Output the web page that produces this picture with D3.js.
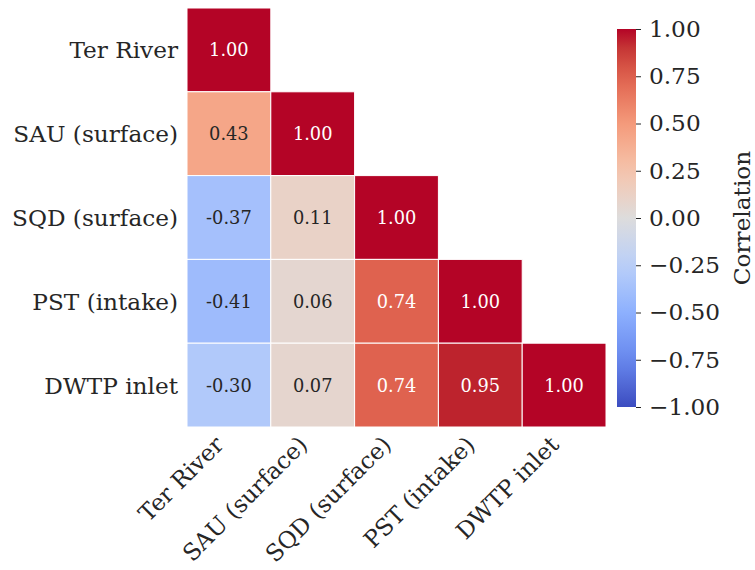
<!DOCTYPE html>
<html>
<head>
<meta charset="utf-8">
<script src="https://cdn.jsdelivr.net/npm/d3@7"></script>
<style>
  html, body { margin: 0; padding: 0; background: #fff; }
  text { font-family: "DejaVu Serif", serif; fill: #262626; }
</style>
</head>
<body>
<svg id="chart" width="755" height="570"></svg>
<script>
// Sampling sites (rows and columns of the correlation matrix)
const sites = ["Ter River", "SAU (surface)", "SQD (surface)", "PST (intake)", "DWTP inlet"];

// Lower triangle of the correlation matrix, one array per row
const rowTer  = [1.00];
const rowSAU  = [0.43, 1.00];
const rowSQD  = [-0.37, 0.11, 1.00];
const rowPST  = [-0.41, 0.06, 0.74, 1.00];
const rowDWTP = [-0.30, 0.07, 0.74, 0.95, 1.00];
const matrixRows = [rowTer, rowSAU, rowSQD, rowPST, rowDWTP];

// Colour bar ticks
const barTicks = [1.00, 0.75, 0.50, 0.25, 0.00, -0.25, -0.50, -0.75, -1.00];

// Diverging cool-warm palette
const coolwarmStops = ["#3b4cc0", "#6788ee", "#8db0fe", "#b9d0f9", "#dddcdc", "#f5c4ac", "#f49a7b", "#de604d", "#b40426"];
const coolwarm = d3.scaleLinear()
  .domain(d3.range(coolwarmStops.length).map(i => -1 + 2 * i / (coolwarmStops.length - 1)))
  .range(coolwarmStops)
  .interpolate(d3.interpolateLab);

const svg = d3.select("#chart");
const labelSize = 23.2;

const gridLeft = 187, gridTop = 8, gridSize = 419;
const x = d3.scaleBand().domain(sites).range([gridLeft, gridLeft + gridSize]);
const y = d3.scaleBand().domain(sites).range([gridTop, gridTop + gridSize]);

const cells = [];
matrixRows.forEach((row, i) => row.forEach((v, j) => cells.push({ r: sites[i], c: sites[j], v })));

// Cell annotations use a plain hyphen for negatives; the colour bar uses a true minus
const annotFmt = d3.formatLocale({ decimal: ".", thousands: ",", grouping: [3], currency: ["", ""], minus: "-" }).format(".2f");
const tickFmt = d3.format(".2f");

const luminance = col => {
  const c = d3.rgb(col);
  const lin = u => { u /= 255; return u <= 0.03928 ? u / 12.92 : Math.pow((u + 0.055) / 1.055, 2.4); };
  return 0.2126 * lin(c.r) + 0.7152 * lin(c.g) + 0.0722 * lin(c.b);
};

const g = svg.append("g");
g.selectAll("rect.cell").data(cells).join("rect")
  .attr("class", "cell")
  .attr("x", d => x(d.c))
  .attr("y", d => y(d.r))
  .attr("width", x.bandwidth())
  .attr("height", y.bandwidth())
  .attr("fill", d => coolwarm(d.v))
  .attr("stroke", "#fff")
  .attr("stroke-width", 1);

g.selectAll("text.annot").data(cells).join("text")
  .attr("class", "annot")
  .attr("x", d => x(d.c) + x.bandwidth() / 2)
  .attr("y", d => y(d.r) + y.bandwidth() / 2)
  .attr("text-anchor", "middle")
  .attr("dominant-baseline", "central")
  .style("font-size", "17.8px")
  .style("fill", d => luminance(coolwarm(d.v)) < 0.408 ? "#ffffff" : "#262626")
  .text(d => annotFmt(d.v));

// Row labels
svg.append("g").selectAll("text").data(sites).join("text")
  .attr("x", gridLeft - 9)
  .attr("y", d => y(d) + y.bandwidth() / 2)
  .attr("text-anchor", "end")
  .attr("dominant-baseline", "central")
  .style("font-size", labelSize + "px")
  .text(d => d);

// Column labels, rotated 45 degrees and right-aligned under each column
const diag = Math.SQRT1_2;
svg.append("g").selectAll("text").data(sites).join("text")
  .attr("transform", d => {
    const ax = x(d) + x.bandwidth() / 2 - 0.236 * labelSize * diag;
    const ay = gridTop + gridSize + 4 + 0.928 * labelSize * diag;
    return `translate(${ax},${ay}) rotate(-45)`;
  })
  .attr("text-anchor", "end")
  .style("font-size", labelSize + "px")
  .text(d => d);

// Colour bar
const cbX = 617, cbW = 19, cbTop = 29, cbBottom = 407;
const cy = d3.scaleLinear().domain([-1, 1]).range([cbBottom, cbTop]);
const defs = svg.append("defs");
const grad = defs.append("linearGradient").attr("id", "cbgrad")
  .attr("x1", 0).attr("y1", 1).attr("x2", 0).attr("y2", 0);
d3.range(0, 1.0001, 0.05).forEach(t => {
  grad.append("stop").attr("offset", t).attr("stop-color", coolwarm(-1 + 2 * t));
});
svg.append("rect")
  .attr("x", cbX).attr("y", cbTop)
  .attr("width", cbW).attr("height", cbBottom - cbTop)
  .attr("fill", "url(#cbgrad)");

const cbAxis = d3.axisRight(cy)
  .tickValues(barTicks)
  .tickSize(5)
  .tickPadding(8)
  .tickFormat(tickFmt);
const ag = svg.append("g").attr("transform", `translate(${cbX + cbW},0)`).call(cbAxis);
ag.select(".domain").remove();
ag.selectAll(".tick line").attr("stroke", "#262626").attr("stroke-width", 1);
ag.selectAll(".tick text")
  .style("font-size", labelSize + "px")
  .style("font-family", "DejaVu Serif")
  .attr("fill", "#262626");

svg.append("text")
  .attr("transform", `translate(741,${(cbTop + cbBottom) / 2}) rotate(-90)`)
  .attr("text-anchor", "middle")
  .attr("dominant-baseline", "central")
  .style("font-size", labelSize + "px")
  .text("Correlation");
</script>
</body>
</html>
